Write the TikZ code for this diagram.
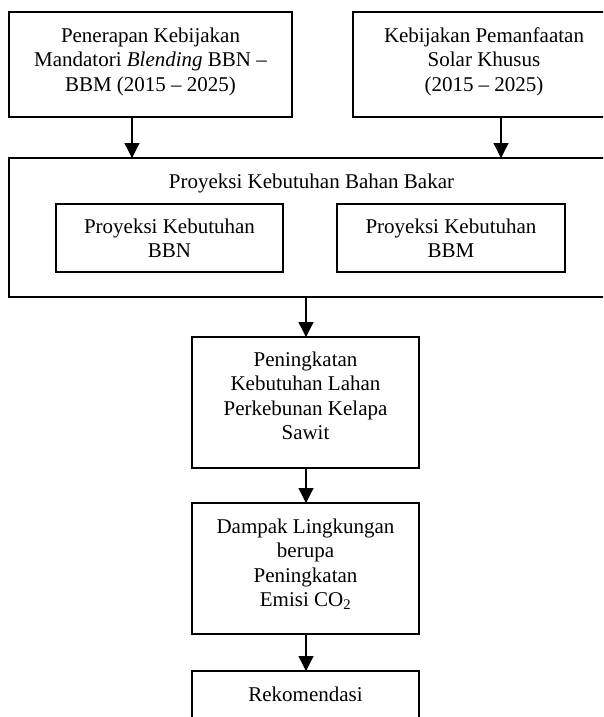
\documentclass[tikz,border=0pt]{standalone}
\usepackage{fontspec}
\setmainfont{Liberation Serif}
\usetikzlibrary{arrows.meta}
\begin{document}
\begin{tikzpicture}[x=1pt,y=-1pt,
  box/.style={draw, line width=1.3pt, anchor=north west, inner sep=0pt, outer sep=0pt},
  txt/.style={anchor=north, inner sep=0pt, align=center, font=\fontsize{21}{24.5}\selectfont},
  arr/.style={line width=1.3pt, -{Triangle[width=15pt,length=15pt]}}]
\useasboundingbox (0,0) rectangle (603,717);
\clip (0,0) rectangle (603,717);
\fill[white] (0,0) rectangle (603,717);
% boxes
\node[box, minimum width=283pt, minimum height=105pt] (b1) at (9,12) {};
\node[box, minimum width=262pt, minimum height=105pt] (b2) at (353,12) {};
\node[box, minimum width=605pt, minimum height=139pt] (big) at (9,158) {};
\node[box, minimum width=227pt, minimum height=68pt] (i1) at (56,204) {};
\node[box, minimum width=228pt, minimum height=68pt] (i2) at (337,204) {};
\node[box, minimum width=227pt, minimum height=131pt] (b3) at (192,337) {};
\node[box, minimum width=227pt, minimum height=131pt] (b4) at (192,503) {};
\node[box, minimum width=227pt, minimum height=90pt] (b5) at (192,671) {};
% texts
\node[txt] (t1) at (150.5,24.85) {\strut Penerapan Kebijakan\\Mandatori \textit{Blending} BBN –\\BBM (2015 – 2025)};
\node[txt] (t2) at (484,24.85) {\strut Kebijakan Pemanfaatan\\Solar Khusus\\(2015 – 2025)};
\node[txt] (tbig) at (311.5,170.85) {\strut Proyeksi Kebutuhan Bahan Bakar};
\node[txt] (ti1) at (169.5,215.85) {\strut Proyeksi Kebutuhan\\BBN};
\node[txt] (ti2) at (451,215.85) {\strut Proyeksi Kebutuhan\\BBM};
\node[txt] (t3) at (305.5,348.85) {\strut Peningkatan\\Kebutuhan Lahan\\Perkebunan Kelapa\\Sawit};
\node[txt] (t4) at (305.5,515.85) {\strut Dampak Lingkungan\\berupa\\Peningkatan\\Emisi CO\textsubscript{2}};
\node[txt] (t5) at (305.5,683.85) {\strut Rekomendasi};
% connectors
\coordinate (xa) at (132,0);
\coordinate (xb) at (501,0);
\coordinate (xc) at (306,0);
\draw[arr] (b1.south -| xa) -- (big.north -| xa);
\draw[arr] (b2.south -| xb) -- (big.north -| xb);
\draw[arr] (big.south -| xc) -- (b3.north -| xc);
\draw[arr] (b3.south -| xc) -- (b4.north -| xc);
\draw[arr] (b4.south -| xc) -- (b5.north -| xc);
\end{tikzpicture}
\end{document}
